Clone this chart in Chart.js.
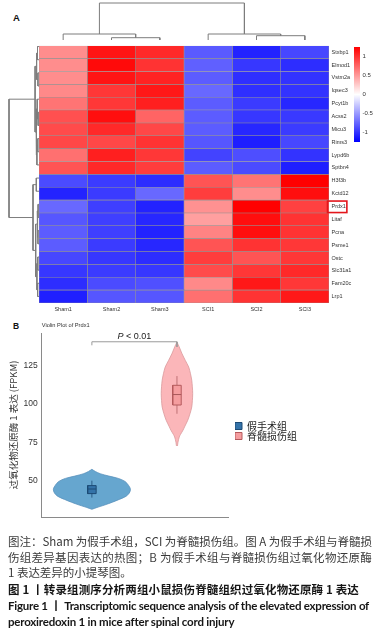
<!DOCTYPE html>
<html lang="zh">
<head>
<meta charset="UTF-8">
<title>Prdx1 heatmap and violin plot</title>
<script src="https://cdn.jsdelivr.net/npm/chart.js@4.4.1/dist/chart.umd.min.js"></script>
<style>
  html, body { margin: 0; padding: 0; background: #fff; }
  body { width: 385px; height: 642px; position: relative; overflow: hidden; font-family: "Liberation Sans", Arial, sans-serif; }
  canvas { position: absolute; }
  .panel { position: absolute; font-weight: bold; color: #111; line-height: 1; }
  .cap { position: absolute; left: 8px; white-space: nowrap; font-family: "Noto Sans CJK SC", sans-serif; font-size: 11.5px; line-height: 16px; color: #3a3a3a; }
  .cap.b { font-weight: bold; color: #161616; }
  .cap.en { font-family: Lato, "Noto Sans CJK SC", sans-serif; }
</style>
</head>
<body>
<div class="panel" style="left:13px; top:13px; font-size:9.5px;">A</div>
<canvas id="topTree" width="290" height="40" style="left:39px; top:0px;"></canvas>
<canvas id="leftTree" width="39" height="263" style="left:0px; top:40px;"></canvas>
<canvas id="heat" width="322" height="280" style="left:39px; top:40px;"></canvas>
<canvas id="scaleBar" width="31" height="107" style="left:354px; top:41px;"></canvas>

<div class="panel" style="left:13px; top:322px; font-size:8.5px;">B</div>
<canvas id="violin" width="307" height="226" style="left:0px; top:318px;"></canvas>

<div class="cap" id="c1" style="top:533px;">图注：Sham 为假手术组，SCI 为脊髓损伤组。图 A 为假手术组与脊髓损</div>
<div class="cap" id="c2" style="top:549px;">伤组差异基因表达的热图；B 为假手术组与脊髓损伤组过氧化物还原酶</div>
<div class="cap" id="c3" style="top:564px;">1 表达差异的小提琴图。</div>
<div class="cap b" id="c4" style="top:581px;">图 1 丨转录组测序分析两组小鼠损伤脊髓组织过氧化物还原酶 1 表达</div>
<div class="cap b en" id="c5" style="top:598px;">Figure 1 丨 Transcriptomic sequence analysis of the elevated expression of</div>
<div class="cap b en" id="c6" style="top:614px;">peroxiredoxin 1 in mice after spinal cord injury</div>

<script>
  // ---- panel A data ----
  const samples = ["Sham1", "Sham2", "Sham3", "SCI1", "SCI2", "SCI3"];
  const genes = ["Stxbp1", "Elmod1", "Vstm2a", "Iqsec3", "Pcyt1b", "Acss2", "Micu3", "Rims3", "Lypd6b", "Sptbn4",
                 "H3f3b", "Kctd12", "Prdx1", "Litaf", "Pcna", "Psme1", "Ostc", "Slc31a1", "Fam20c", "Lrp1"];
  const zScores = [
    [0.56, 1.15, 1.05, -0.81, -1.08, -0.90],
    [0.56, 1.20, 1.00, -0.78, -0.98, -1.03],
    [0.56, 1.15, 1.08, -0.80, -1.02, -1.00],
    [0.58, 0.98, 1.13, -0.74, -1.02, -1.00],
    [0.68, 0.98, 1.10, -0.80, -0.96, -1.06],
    [0.86, 1.18, 0.76, -0.80, -0.98, -0.97],
    [0.88, 1.05, 0.90, -0.80, -1.06, -0.96],
    [0.90, 0.90, 1.00, -0.83, -1.10, -0.90],
    [0.70, 1.10, 0.98, -0.92, -0.87, -1.00],
    [0.84, 1.05, 0.95, -0.80, -0.88, -1.10],
    [-0.88, -0.96, -1.03, 0.84, 0.68, 1.25],
    [-1.08, -0.96, -0.74, 0.95, 0.56, 1.18],
    [-0.74, -0.94, -1.08, 0.54, 1.25, 0.93],
    [-0.83, -0.94, -1.06, 0.47, 1.18, 1.00],
    [-0.80, -0.94, -1.08, 0.61, 1.18, 1.00],
    [-0.80, -0.96, -1.06, 0.84, 1.00, 0.98],
    [-0.90, -0.98, -1.03, 0.95, 0.84, 0.98],
    [-0.98, -0.96, -0.98, 0.88, 0.98, 1.05],
    [-1.03, -0.88, -0.86, 0.58, 1.13, 0.98],
    [-1.10, -0.83, -0.83, 0.70, 1.00, 1.13]
  ];
  const colorLimit = 1.25;
  const colorTicks = [-1, -0.5, 0, 0.5, 1];
  const boxedGene = "Prdx1";
  // clustering trees: [left, right, height], leaves are indexes
  const sampleTree = [[0, [1, 2, 1.15], 3], [3, [4, 5, 2.15], 3], 18.5];
  const geneTree = [
    [[[0, 1, 0.5], [2, 3, 0.35], 0.8], [[4, [5, 6, 0.3], 0.6], [[7, 8, 0.4], 9, 0.7], 1.0], 1.3],
    [[10, 11, 0.9], [[[12, 13, 0.3], [14, 15, 0.35], 0.6], [[16, 17, 0.4], [18, 19, 0.45], 0.7], 1.1], 2.0],
    10
  ];

  // ---- panel B data ----
  const groups = ["假手术组", "脊髓损伤组"];
  const shamLevels  = [57.4, 56.0, 54.5, 53.0, 51.5, 49.5, 47.0, 44.5, 42.0, 39.8, 37.8, 36.0, 34.2, 32.6, 31.4];
  const shamDensity = [0, 0.04, 0.10, 0.20, 0.31, 0.39, 0.43, 0.453, 0.44, 0.40, 0.32, 0.24, 0.15, 0.06, 0];
  const sciLevels  = [140.1, 137.3, 132.6, 128.0, 123.9, 119.5, 115.3, 111.0, 106.6, 102.0, 97.9, 93.5, 89.3, 85.5, 82.8, 80.0, 78.4, 75.0, 72.6];
  const sciDensity = [0, 0.024, 0.059, 0.10, 0.138, 0.159, 0.174, 0.181, 0.185, 0.181, 0.174, 0.153, 0.127, 0.094, 0.071, 0.041, 0.027, 0.012, 0.006];
  // min, q1, median, q3, max
  const shamBox = [39.0, 41.6, 44.6, 46.8, 50.0];
  const sciBox = [93.5, 99.2, 106.0, 112.0, 118.0];
  const yTicks = [50, 75, 100, 125];
  const bracketY = 140.3;
  const bracketLegs = [138.0, 137.0];
  const pLabel = ["P", " < 0.01"];

  Chart.defaults.font.family = '"Liberation Sans", Arial, sans-serif';
  Chart.defaults.color = "#333";
  const cjk = '"Noto Sans CJK SC", sans-serif';

  function toColor(v) {
    const t = Math.max(-1, Math.min(1, v / colorLimit));
    if (t >= 0) {
      const g = Math.round(255 * (1 - t));
      return `rgb(255,${g},${g})`;
    }
    const g = Math.round(255 * (1 + t));
    return `rgb(${g},${g},255)`;
  }

  // walk a tree and give one elbow per merge
  function treeLinks(tree) {
    const links = [];
    function walk(node) {
      if (typeof node === "number") return { pos: node + 0.5, h: 0 };
      const a = walk(node[0]), b = walk(node[1]), h = node[2];
      links.push([{ p: a.pos, h: a.h }, { p: a.pos, h }, { p: b.pos, h }, { p: b.pos, h: b.h }]);
      return { pos: (a.pos + b.pos) / 2, h };
    }
    walk(tree);
    return links;
  }

  const treeLine = { borderColor: "#7d7d7d", borderWidth: 1, pointRadius: 0, fill: false, clip: false };
  const common = { responsive: false, animation: false, devicePixelRatio: 1, events: [],
                   plugins: { legend: { display: false }, tooltip: { enabled: false } } };

  // top dendrogram
  new Chart(document.getElementById("topTree"), {
    type: "line",
    data: { datasets: treeLinks(sampleTree).map(l => ({ ...treeLine, data: l.map(q => ({ x: q.p, y: q.h })) })) },
    options: { ...common, layout: { padding: 0 },
      scales: { x: { type: "linear", min: 0, max: samples.length, display: false },
                y: { type: "linear", min: 0, max: 20, display: false } } }
  });

  // left dendrogram
  new Chart(document.getElementById("leftTree"), {
    type: "line",
    data: { datasets: treeLinks(geneTree).map(l => ({ ...treeLine, data: l.map(q => ({ x: q.h, y: q.p })) })) },
    options: { ...common, layout: { padding: 0 },
      scales: { x: { type: "linear", min: 0, max: 13, reverse: true, display: false },
                y: { type: "linear", min: 0, max: genes.length, reverse: true, display: false } } }
  });

  // heatmap cells as floating bars, one dataset per sample column
  const boxLabel = {
    id: "boxLabel",
    afterDraw(chart) {
      const { ctx, chartArea, scales } = chart;
      const py = scales.y.getPixelForValue(genes.indexOf(boxedGene));
      ctx.save();
      ctx.font = '5.5px "Liberation Sans"';
      const w = ctx.measureText(boxedGene).width;
      ctx.strokeStyle = "#e3151b";
      ctx.lineWidth = 1.6;
      ctx.strokeRect(chartArea.right - 1.5, py - 5.5, w + 5, 11.5);
      ctx.restore();
    }
  };
  new Chart(document.getElementById("heat"), {
    type: "bar",
    data: {
      labels: genes,
      datasets: samples.map((s, c) => ({
        label: s,
        data: genes.map(() => [c, c + 1]),
        backgroundColor: zScores.map(r => toColor(r[c])),
        borderColor: "#949494",
        borderWidth: 0.6,
        borderSkipped: false,
        grouped: false,
        barPercentage: 1,
        categoryPercentage: 1
      }))
    },
    options: { ...common, indexAxis: "y", layout: { padding: 0 },
      scales: {
        x: { type: "linear", min: 0, max: samples.length,
             afterBuildTicks: s => { s.ticks = samples.map((_, i) => ({ value: i + 0.5 })); },
             afterFit: s => { s.height = 17; },
             ticks: { callback: (v, i) => samples[i], font: { size: 5.5 }, padding: 3.5, maxRotation: 0, autoSkip: false },
             grid: { display: false, drawTicks: false }, border: { display: false } },
        y: { type: "category", position: "right",
             afterFit: s => { s.width = 32; },
             ticks: { font: { size: 5.5 }, padding: 2.5, autoSkip: false },
             grid: { display: false, drawTicks: false }, border: { display: false } }
      }
    },
    plugins: [boxLabel]
  });

  // colour key
  new Chart(document.getElementById("scaleBar"), {
    type: "bar",
    data: { labels: [""], datasets: [{
      data: [[-colorLimit, colorLimit]],
      backgroundColor: ctx => {
        const ca = ctx.chart.chartArea;
        if (!ca) return "#fff";
        const g = ctx.chart.ctx.createLinearGradient(0, ca.bottom, 0, ca.top);
        g.addColorStop(0, toColor(-colorLimit));
        g.addColorStop(0.5, toColor(0));
        g.addColorStop(1, toColor(colorLimit));
        return g;
      },
      borderWidth: 0, barPercentage: 1, categoryPercentage: 1
    }] },
    options: { ...common, layout: { padding: 0 },
      scales: {
        x: { display: false },
        y: { min: -colorLimit, max: colorLimit, position: "right",
             afterFit: s => { s.width = 25; },
             afterBuildTicks: s => { s.ticks = colorTicks.map(v => ({ value: v })); },
             ticks: { font: { size: 6 }, padding: 2.5, callback: v => String(v) },
             grid: { display: false, drawTicks: false }, border: { display: false } }
      }
    }
  });

  // ---- violin plot ----
  const boxHalf = 0.05;
  function violinOutline(c, levels, dens) {
    const right = levels.map((v, i) => ({ x: c + dens[i], y: v })).reverse();
    const left = levels.map((v, i) => ({ x: c - dens[i], y: v }));
    return right.concat(left);
  }
  function boxOutline(c, s) {
    return [{ x: c - boxHalf, y: s[1] }, { x: c + boxHalf, y: s[1] }, { x: c + boxHalf, y: s[3] },
            { x: c - boxHalf, y: s[3] }, { x: c - boxHalf, y: s[1] }];
  }
  const pText = {
    id: "pText",
    afterDatasetsDraw(chart) {
      const { ctx, scales } = chart;
      const cx = scales.x.getPixelForValue(1.5);
      const py = scales.y.getPixelForValue(bracketY) - 2.5;
      ctx.save();
      const fItal = 'italic 9px "Liberation Sans"', fReg = '9px "Liberation Sans"';
      ctx.font = fItal; const w1 = ctx.measureText(pLabel[0]).width;
      ctx.font = fReg; const w2 = ctx.measureText(pLabel[1]).width;
      let x = cx - (w1 + w2) / 2;
      ctx.fillStyle = "#222";
      ctx.textBaseline = "alphabetic";
      ctx.font = fItal; ctx.fillText(pLabel[0], x, py);
      ctx.font = fReg; ctx.fillText(pLabel[1], x + w1, py);
      ctx.restore();
    }
  };

  const seg = { pointRadius: 0, fill: false, borderWidth: 1 };
  new Chart(document.getElementById("violin"), {
    type: "line",
    data: { datasets: [
      { ...seg, label: groups[0], data: boxOutline(1, shamBox), fill: "shape", backgroundColor: "#3473a9", borderColor: "#1c4a74", order: 1 },
      { ...seg, label: groups[1], data: boxOutline(2, sciBox), fill: "shape", backgroundColor: "#f59d9f", borderColor: "#b45a5c", order: 1 },
      { ...seg, label: "m1", data: [{ x: 1 - boxHalf, y: shamBox[2] }, { x: 1 + boxHalf, y: shamBox[2] }], borderColor: "#1c4a74", order: 0 },
      { ...seg, label: "m2", data: [{ x: 2 - boxHalf, y: sciBox[2] }, { x: 2 + boxHalf, y: sciBox[2] }], borderColor: "#a9585a", order: 0 },
      { ...seg, label: "w1", data: [{ x: 1, y: shamBox[0] }, { x: 1, y: shamBox[4] }], borderColor: "#1c4a74", borderWidth: 0.8, order: 2 },
      { ...seg, label: "w2", data: [{ x: 2, y: sciBox[0] }, { x: 2, y: sciBox[4] }], borderColor: "#b06063", borderWidth: 0.8, order: 2 },
      { ...seg, label: "bracket", data: [{ x: 1, y: bracketLegs[0] }, { x: 1, y: bracketY }, { x: 2, y: bracketY }, { x: 2, y: bracketLegs[1] }],
        borderColor: "#9a9a9a", order: 2 },
      { ...seg, label: "v1", data: violinOutline(1, shamLevels, shamDensity), fill: "shape", tension: 0.3,
        backgroundColor: "#66a6cf", borderColor: "#5a92bd", borderWidth: 0.8, order: 3 },
      { ...seg, label: "v2", data: violinOutline(2, sciLevels, sciDensity), fill: "shape", tension: 0.3,
        backgroundColor: "#fbb6b9", borderColor: "#d9999c", borderWidth: 0.8, order: 3 }
    ] },
    options: { ...common,
      layout: { padding: 0 },
      plugins: {
        tooltip: { enabled: false },
        title: { display: true, text: "Violin Plot of Prdx1", align: "start", fullSize: false, color: "#333",
                 font: { size: 5.7, weight: "normal" }, padding: { top: 4.1, bottom: 4.06 } },
        legend: { display: true, position: "right", align: "center", maxWidth: 100,
                  labels: { boxWidth: 7, boxHeight: 7, padding: 0, color: "#222", font: { size: 10, family: cjk },
                            filter: item => item.datasetIndex < groups.length } }
      },
      scales: {
        x: { type: "linear", min: 0.41, max: 2.6,
             afterFit: s => { s.height = 27; },
             ticks: { display: false }, grid: { display: false, drawTicks: false },
             border: { display: true, color: "#8a8a8a", width: 1 } },
        y: { type: "linear", min: 26.4, max: 146,
             afterFit: s => { s.width = 41.7; },
             afterBuildTicks: s => { s.ticks = yTicks.map(v => ({ value: v })); },
             ticks: { font: { size: 8.5 }, padding: 4, color: "#333" },
             grid: { display: false, drawTicks: false },
             border: { display: true, color: "#8a8a8a", width: 1 },
             title: { display: true, text: "过氧化物还原酶 1 表达 (FPKM)", color: "#333",
                      font: { size: 9.5, family: cjk }, padding: { top: 7.3, bottom: 0 } } },
        yr: { type: "linear", position: "right", display: true,
              afterFit: s => { s.width = 7; },
              ticks: { display: false }, grid: { display: false, drawTicks: false }, border: { display: false } }
      }
    },
    plugins: [pText]
  });

  // caption lines stretched to the widths seen in the figure
  function fitWidth(id, target) {
    const el = document.getElementById(id);
    const w = el.getBoundingClientRect().width;
    const ls = (target - w) / el.textContent.length;
    el.style.letterSpacing = ls + "px";
    return ls;
  }
  const ls1 = fitWidth("c1", 364);
  fitWidth("c2", 364);
  document.getElementById("c3").style.letterSpacing = ls1 + "px";
  fitWidth("c4", 351);
  fitWidth("c5", 361);
  fitWidth("c6", 226);
</script>
</body>
</html>
